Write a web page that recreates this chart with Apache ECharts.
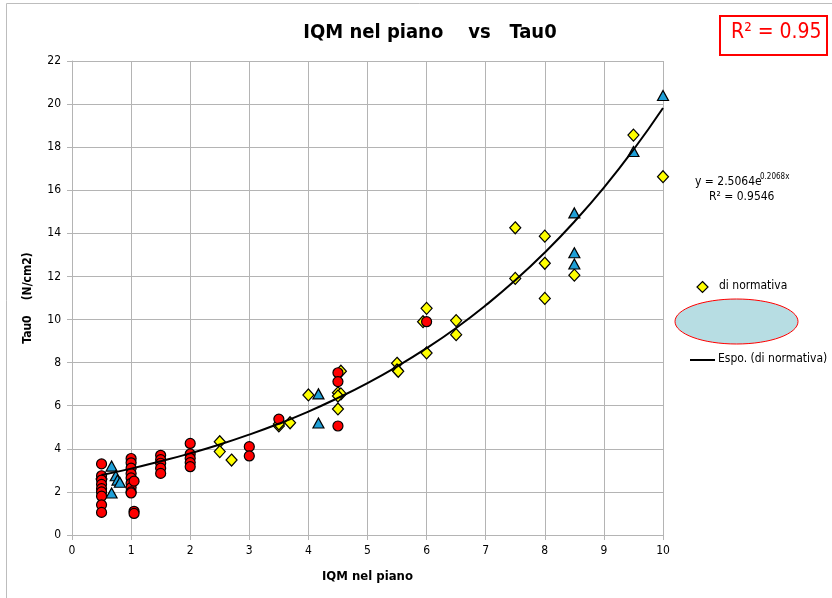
<!DOCTYPE html>
<html>
<head>
<meta charset="utf-8">
<script src="https://cdn.jsdelivr.net/npm/echarts@6/dist/echarts.min.js"></script>
<style>
  html, body { margin: 0; padding: 0; background: #fff; }
  #chart { width: 832px; height: 598px; }
</style>
</head>
<body>
<div id="chart"></div>
<script>
const FONT = "'Liberation Sans Narrow', 'DejaVu Sans Condensed', 'Open Sans', sans-serif";

// di normativa (yellow diamonds)
const normativaPoints = [
  [0.5, 2.6], [2.5, 4.33], [2.5, 3.87], [2.7, 3.48],
  [3.5, 5.06], [3.5, 5.15], [3.69, 5.21],
  [4.0, 6.5], [4.55, 7.6], [4.5, 6.6], [4.55, 6.55], [4.5, 6.45], [4.5, 5.85],
  [5.5, 7.97], [5.5, 7.66], [5.52, 7.6],
  [6.0, 10.52], [5.94, 9.9], [6.0, 8.45],
  [6.5, 9.95], [6.5, 9.3],
  [7.5, 14.26], [7.5, 11.91],
  [8.0, 13.87], [8.0, 12.61], [8.0, 10.98],
  [8.5, 12.06],
  [9.5, 18.56], [10.0, 16.63]
];

// blue triangles
const bluePoints = [
  [0.67, 3.2], [0.74, 2.75], [0.77, 2.55], [0.81, 2.45], [0.67, 1.95],
  [4.17, 6.55], [4.17, 5.2],
  [8.5, 14.95], [8.5, 13.1], [8.5, 12.58],
  [9.5, 17.8], [10.0, 20.4]
];

// red circles
const redPoints = [
  [0.5, 3.3], [0.5, 2.75], [0.5, 2.55], [0.5, 2.35], [0.5, 2.15], [0.5, 2.0], [0.5, 1.8], [0.5, 1.4], [0.5, 1.05],
  [1.0, 3.55], [1.0, 3.35], [1.0, 3.1], [1.0, 2.85], [1.0, 2.65], [1.0, 2.4], [1.0, 2.2], [1.0, 2.0], [1.0, 1.95],
  [1.05, 2.5], [1.05, 1.1], [1.05, 1.0],
  [1.5, 3.7], [1.5, 3.5], [1.5, 3.33], [1.5, 3.1], [1.5, 2.86],
  [2.0, 4.25], [2.0, 3.76], [2.0, 3.56], [2.0, 3.36], [2.0, 3.17],
  [3.0, 4.1], [3.0, 3.67],
  [3.5, 5.38],
  [4.5, 7.53], [4.5, 7.12], [4.5, 5.06],
  [6.0, 9.9]
];

// exponential trendline (y = 2.5064e^0.2068x)
const trendX = [0.5, 1, 1.5, 2, 2.5, 3, 3.5, 4, 4.5, 5, 5.5, 6, 6.5, 7, 7.5, 8, 8.5, 9, 9.5, 10];
const trendY = [2.78, 3.08, 3.42, 3.79, 4.2, 4.66, 5.17, 5.73, 6.36, 7.05, 7.82, 8.67, 9.61, 10.66, 11.82, 13.11, 14.54, 16.12, 17.88, 19.82];

const chart = echarts.init(document.getElementById('chart'), null, { renderer: 'canvas' });

const gridColor = '#b4b4b4';

function markerStyle(color) {
  return { color: color, opacity: 1, borderColor: '#000', borderWidth: 1.2 };
}

const option = {
  backgroundColor: '#fff',
  animation: false,
  title: {
    text: 'IQM nel piano    vs   Tau0',
    left: 425,
    top: 18,
    textAlign: 'center',
    textStyle: { fontFamily: FONT, fontSize: 20, fontWeight: 'bold', color: '#000' }
  },
  grid: { left: 72, right: 169, top: 61, bottom: 63, containLabel: false },
  xAxis: {
    type: 'value',
    min: 0, max: 10, interval: 1,
    name: 'IQM nel piano',
    nameLocation: 'middle',
    nameGap: 35,
    nameTextStyle: { fontFamily: FONT, fontSize: 13, fontWeight: 'bold', color: '#000' },
    axisLine: { show: true, lineStyle: { color: gridColor, width: 1 } },
    axisTick: { show: true, length: 5, lineStyle: { color: gridColor } },
    axisLabel: { fontFamily: FONT, fontSize: 12, color: '#000', margin: 10 },
    splitLine: { show: true, lineStyle: { color: gridColor, width: 1 } }
  },
  yAxis: {
    type: 'value',
    min: 0, max: 22, interval: 2,
    name: 'Tau0    (N/cm2)',
    nameLocation: 'middle',
    nameRotate: 90,
    nameGap: 38,
    nameTextStyle: { fontFamily: FONT, fontSize: 12, fontWeight: 'bold', color: '#000' },
    axisLine: { show: true, lineStyle: { color: gridColor, width: 1 } },
    axisTick: { show: true, length: 5, lineStyle: { color: gridColor } },
    axisLabel: { fontFamily: FONT, fontSize: 12, color: '#000', margin: 11 },
    splitLine: { show: true, lineStyle: { color: gridColor, width: 1 } }
  },
  series: [
    {
      name: 'di normativa',
      type: 'scatter',
      symbol: 'diamond',
      symbolSize: [11, 12],
      data: normativaPoints,
      itemStyle: markerStyle('#ffff00'),
      z: 2
    },
    {
      name: 'blu',
      type: 'scatter',
      symbol: 'triangle',
      symbolSize: [11, 10],
      data: bluePoints,
      itemStyle: markerStyle('#1f9fd7'),
      z: 3
    },
    {
      name: 'rosso',
      type: 'scatter',
      symbol: 'circle',
      symbolSize: 10,
      data: redPoints,
      itemStyle: markerStyle('#ff0000'),
      z: 4
    },
    {
      name: 'Espo. (di normativa)',
      type: 'line',
      smooth: true,
      showSymbol: false,
      data: trendX.map((x, i) => [x, trendY[i]]),
      lineStyle: { color: '#000', width: 2 },
      z: 5
    }
  ],
  graphic: [
    // outer chart frame (left and top edges visible)
    { type: 'line', shape: { x1: 6.5, y1: 3.5, x2: 6.5, y2: 598 }, style: { stroke: '#bdbdbd', lineWidth: 1 } },
    { type: 'line', shape: { x1: 6.5, y1: 3.5, x2: 832, y2: 3.5 }, style: { stroke: '#bdbdbd', lineWidth: 1 } },
    // R^2 box
    { type: 'rect', shape: { x: 720, y: 16, width: 107, height: 39 }, style: { fill: '#fff', stroke: '#ff0000', lineWidth: 2 } },
    {
      type: 'text', left: 731, top: 22,
      style: {
        text: 'R² = 0.95', fill: '#ff0000',
        font: '21px ' + FONT
      }
    },
    // trendline equation
    {
      type: 'text', x: 695, y: 176,
      style: { text: 'y = 2.5064e', fill: '#000', font: '12px ' + FONT }
    },
    {
      type: 'text', x: 760, y: 173,
      style: { text: '0.2068x', fill: '#000', font: '8px ' + FONT }
    },
    {
      type: 'text', x: 709, y: 191,
      style: { text: 'R² = 0.9546', fill: '#000', font: '12px ' + FONT }
    },
    // legend
    {
      type: 'polygon',
      shape: { points: [[702.5, 281.5], [708, 287], [702.5, 292.5], [697, 287]] },
      style: { fill: '#ffff00', stroke: '#000', lineWidth: 1.2 }
    },
    {
      type: 'text', x: 719, y: 280,
      style: { text: 'di normativa', fill: '#000', font: '12px ' + FONT }
    },
    {
      type: 'ellipse',
      shape: { cx: 736.5, cy: 321.5, rx: 61.5, ry: 22.5 },
      style: { fill: '#b7dde3', stroke: '#ff0000', lineWidth: 1 }
    },
    { type: 'line', shape: { x1: 690, y1: 360, x2: 715, y2: 360 }, style: { stroke: '#000', lineWidth: 2 } },
    {
      type: 'text', x: 718, y: 353,
      style: { text: 'Espo. (di normativa)', fill: '#000', font: '12px ' + FONT }
    }
  ]
};

chart.setOption(option);
window.addEventListener('resize', chart.resize);
</script>
</body>
</html>
